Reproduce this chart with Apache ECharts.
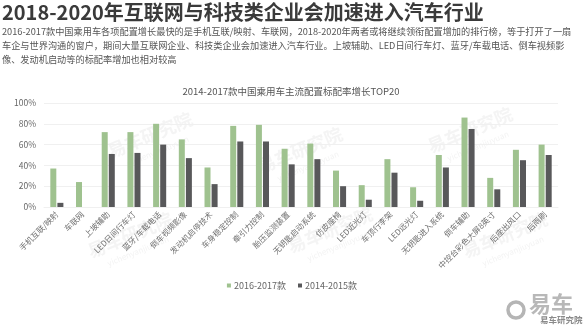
<!DOCTYPE html>
<html>
<head>
<meta charset="utf-8">
<title>2018-2020年互联网与科技类企业会加速进入汽车行业</title>
<script src="https://cdn.jsdelivr.net/npm/echarts@6/dist/echarts.min.js"></script>
<style>
  html, body { margin: 0; padding: 0; background: #fff; }
  #chart { width: 584px; height: 328px; }
</style>
</head>
<body>
<div id="chart"></div>
<script>
// Configurations with the fastest growth in standard-fit rate
const categories = [
  '手机互联/映射', '车联网', '上坡辅助', 'LED日间行车灯', '蓝牙/车载电话',
  '倒车视频影像', '发动机启停技术', '车身稳定控制', '牵引力控制', '胎压监测装置',
  '无钥匙启动系统', '仿皮座椅', 'LED近光灯', '车顶行李架', 'LED远光灯',
  '无钥匙进入系统', '倒车辅助', '中控台彩色大屏8英寸', '后座出风口', '后雨刷'
];
const seriesNames = ['2016-2017款', '2014-2015款'];
const rate2016_2017 = [37, 24, 72, 72, 80, 65, 38, 78, 79, 56, 61, 35, 21, 46, 19, 50, 86, 28, 55, 60];
const rate2014_2015 = [4, 0, 51, 52, 60, 47, 22, 63, 63, 41, 46, 20, 7, 33, 6, 38, 75, 17, 45, 50];
const yTicks = [0, 20, 40, 60, 80, 100];

const headline = '2018-2020年互联网与科技类企业会加速进入汽车行业';
const summaryLines = [
  '2016-2017款中国乘用车各项配置增长最快的是手机互联/映射、车联网，2018-2020年两者或将继续领衔配置增加的排行榜，等于打开了一扇',
  '车企与世界沟通的窗户，期间大量互联网企业、科技类企业会加速进入汽车行业。上坡辅助、LED日间行车灯、蓝牙/车载电话、倒车视频影',
  '像、发动机启动等的标配率增加也相对较高'
];
const chartTitle = '2014-2017款中国乘用车主流配置标配率增长TOP20';

const FONT = '"Noto Sans CJK SC", "Open Sans", sans-serif';
const GREEN = '#9fc28f';
const DARK = '#58585a';

const chart = echarts.init(document.getElementById('chart'), null, { renderer: 'canvas' });

// faint brand watermarks across the plot
const marks = [];
[[150, 135], [300, 150], [470, 130], [130, 235], [330, 230], [505, 235]].forEach(function (p) {
  marks.push({
    type: 'text', x: p[0], y: p[1], rotation: Math.PI / 8, silent: true, z: 0,
    style: { text: '易车研究院', font: 'bold 18px ' + FONT, fill: 'rgba(200,200,200,0.2)', align: 'center', verticalAlign: 'middle' }
  });
  marks.push({
    type: 'text', x: p[0] + 8, y: p[1] + 16, rotation: Math.PI / 8, silent: true, z: 0,
    style: { text: 'yichenyanjiuyuan', font: '8px ' + FONT, fill: 'rgba(200,200,200,0.22)', align: 'center', verticalAlign: 'middle' }
  });
});

const textBlocks = [
  {
    type: 'text', left: 2, top: 2,
    style: { text: headline, font: 'bold 20px ' + FONT, fill: '#3a3a3a' }
  }
];
summaryLines.forEach(function (line, i) {
  textBlocks.push({
    type: 'text', left: 2, top: 27 + i * 14,
    style: { text: line, font: '9.2px ' + FONT, fill: '#555555' }
  });
});

// logo in the bottom-right corner
const logo = [
  { type: 'circle', shape: { cx: 516, cy: 310, r: 8 }, style: { fill: 'none', stroke: '#b5b5b5', lineWidth: 3.5 } },
  { type: 'text', left: 529, top: 293, style: { text: '易车', font: 'bold 22px ' + FONT, fill: '#b8b8b8' } },
  { type: 'text', left: 540, top: 316, style: { text: '易车研究院', font: 'bold 8.5px ' + FONT, fill: '#8a8a8a' } }
];

chart.setOption({
  animation: false,
  title: {
    text: chartTitle,
    left: 286, top: 82, textAlign: 'center',
    textStyle: { fontFamily: FONT, fontSize: 9.5, fontWeight: 'normal', color: '#555555' }
  },
  legend: {
    data: seriesNames,
    left: 'center', top: 276,
    icon: 'rect', itemWidth: 4, itemHeight: 4, itemGap: 12,
    textStyle: { fontFamily: FONT, fontSize: 9, color: '#666666', padding: [0, 0, 0, -2] }
  },
  grid: { left: 44, right: 26, top: 103, bottom: 121, containLabel: false },
  xAxis: {
    type: 'category',
    data: categories,
    axisLine: { show: true, lineStyle: { color: '#f0f0f0' } },
    axisTick: { show: false },
    axisLabel: {
      interval: 0, rotate: 45, margin: 6,
      fontFamily: FONT, fontSize: 8, color: '#707070'
    }
  },
  yAxis: {
    type: 'value',
    min: yTicks[0], max: yTicks[yTicks.length - 1], interval: 20,
    axisLine: { show: false }, axisTick: { show: false },
    splitLine: { lineStyle: { color: '#f0f0f0', width: 1 } },
    axisLabel: {
      margin: 8, fontFamily: FONT, fontSize: 8.5, color: '#666666',
      formatter: '{value}%'
    }
  },
  series: [
    { name: seriesNames[0], type: 'bar', data: rate2016_2017, barWidth: 6, barGap: '18%', itemStyle: { color: GREEN } },
    { name: seriesNames[1], type: 'bar', data: rate2014_2015, barWidth: 6, barGap: '18%', itemStyle: { color: DARK } }
  ],
  graphic: marks.concat(textBlocks, logo)
});
</script>
</body>
</html>
